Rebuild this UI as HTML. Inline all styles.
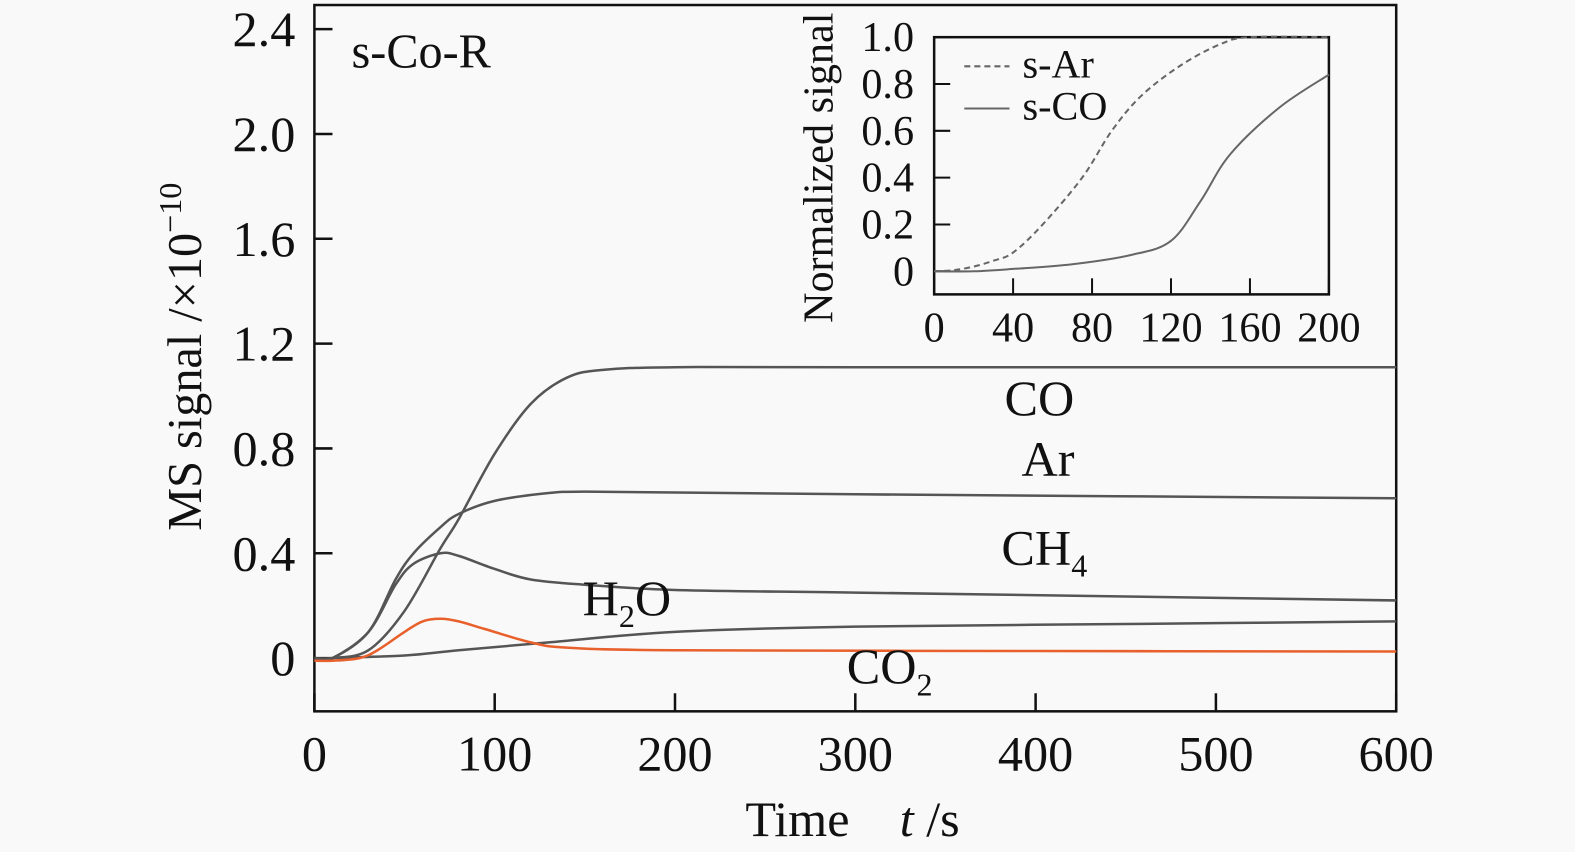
<!DOCTYPE html>
<html><head><meta charset="utf-8"><style>
html,body{margin:0;padding:0;background:#f9f9f9;}
svg{display:block;font-family:"Liberation Serif",serif;}
</style></head><body>
<svg id="c" width="1575" height="852" viewBox="0 0 1568 848" preserveAspectRatio="none"></svg>
<script>
const xTicks=[0,100,200,300,400,500,600];
const yTicks=[0,0.4,0.8,1.2,1.6,2.0,2.4];
const yTickLabels=["0","0.4","0.8","1.2","1.6","2.0","2.4"];
const tCO=[0,10,30,50,70,80,100,120,140,160,200,300,600];
const vCO=[0,0,0.03,0.18,0.42,0.53,0.78,0.97,1.07,1.10,1.11,1.11,1.11];
const tAr=[0,10,30,45,55,70,80,100,130,150,200,300,600];
const vAr=[0,0,0.1,0.3,0.4,0.5,0.55,0.6,0.63,0.635,0.632,0.625,0.61];
const tCH4=[0,10,30,45,55,70,80,100,120,150,200,300,450,600];
const vCH4=[0,0,0.1,0.28,0.36,0.4,0.39,0.34,0.3,0.28,0.26,0.25,0.235,0.22];
const tH2O=[0,10,50,80,130,200,300,450,600];
const vH2O=[-0.01,0,0.01,0.03,0.06,0.1,0.12,0.13,0.14];
const tCO2=[0,10,25,35,50,60,70,80,95,120,140,200,400,600];
const vCO2=[-0.01,-0.01,0,0.03,0.1,0.14,0.15,0.14,0.11,0.06,0.04,0.03,0.027,0.025];
const inTicksX=[0,40,80,120,160,200];
const inTicksY=[0,0.2,0.4,0.6,0.8,1.0];
const inTickLabelsY=["0","0.2","0.4","0.6","0.8","1.0"];
const tsAr=[0,10,20,30,40,55,75,90,105,125,145,160,200];
const vsAr=[0,0.005,0.02,0.045,0.08,0.2,0.4,0.6,0.75,0.88,0.97,1.0,1.0];
const tsCO=[0,20,40,70,100,120,135,150,175,200];
const vsCO=[0,0,0.01,0.03,0.07,0.13,0.3,0.5,0.7,0.84];

const S=document.getElementById('c');const NS='http://www.w3.org/2000/svg';
function el(t,a,p){const e=document.createElementNS(NS,t);for(const k in a)e.setAttribute(k,a[k]);(p||S).appendChild(e);return e;}
function txt(s,a,p){const e=el('text',a,p);e.textContent=s;return e;}
const X=v=>313+v*(1390-313)/600, Y=v=>655-v*(655-29)/2.4;
const IX=v=>930+v*(1323-930)/200, IY=v=>270-v*(270-37)/1.0;
function path(ts,vs,fx,fy){const P=ts.map((t,i)=>[fx(t),fy(vs[i])]);let d='M'+P[0][0]+','+P[0][1];
for(let i=0;i<P.length-1;i++){const p0=P[Math.max(0,i-1)],p1=P[i],p2=P[i+1],p3=P[Math.min(P.length-1,i+2)];
d+=' C'+(p1[0]+(p2[0]-p0[0])/6)+','+(p1[1]+(p2[1]-p0[1])/6)+' '+(p2[0]-(p3[0]-p1[0])/6)+','+(p2[1]-(p3[1]-p1[1])/6)+' '+p2[0]+','+p2[1];}return d;}
let f=el('rect',{x:313,y:5,width:1077,height:703,fill:'none',stroke:'#111','stroke-width':2.5});

xTicks.forEach(v=>{let l=el('line',{x1:X(v),x2:X(v),y1:708,y2:690,stroke:'#111','stroke-width':2.5});

let t=txt(String(v),{x:X(v),y:767,'font-size':50,'text-anchor':'middle',fill:'#111'});
});
yTicks.forEach((v,i)=>{let l=el('line',{x1:313,x2:331,y1:Y(v),y2:Y(v),stroke:'#111','stroke-width':2.5});

let t=txt(yTickLabels[i],{x:294,y:Y(v)+17,'font-size':50,'text-anchor':'end',fill:'#111'});
});
const series=[['co-line',tCO,vCO,'#555'],['ar-line',tAr,vAr,'#555'],['ch4-line',tCH4,vCH4,'#555'],['h2o-line',tH2O,vH2O,'#555'],['co2-line',tCO2,vCO2,'#e8602c']];
series.forEach(s=>{let p=el('path',{d:path(s[1],s[2],X,Y),fill:'none',stroke:s[3],'stroke-width':2.5});
});
let lb=[['label-co','CO',1000,413,''],['label-ar','Ar',1017,474,''],['label-ch4','CH',997,562,'4'],['label-h2o','H',580,612,'2O'],['label-co2','CO',843,680,'2']];
lb.forEach(a=>{let t=el('text',{x:a[2],y:a[3],'font-size':50,fill:'#111'});
if(a[0]==='label-h2o'){t.innerHTML='H<tspan font-size="32" dy="12">2</tspan><tspan dy="-12">O</tspan>';}
else if(a[4]){t.innerHTML=a[1]+'<tspan font-size="32" dy="12">'+a[4]+'</tspan>';}else t.textContent=a[1];});
let sl=txt('s-Co-R',{x:350,y:67,'font-size':48,fill:'#111'});
let yt=el('text',{transform:'translate(200,355) rotate(-90)','font-size':48,'text-anchor':'middle',fill:'#111'});

yt.innerHTML='MS signal /×10<tspan font-size="32" dy="-20">−10</tspan>';
let xt=el('text',{x:742,y:832,'font-size':50,fill:'#111'});
xt.innerHTML='Time<tspan dx="50" font-style="italic">t</tspan> /s';
let g=el('g',{});
let r=el('rect',{x:930,y:37,width:393,height:256,fill:'none',stroke:'#111','stroke-width':2.5},g);

inTicksX.forEach(v=>{let l=el('line',{x1:IX(v),x2:IX(v),y1:293,y2:277,stroke:'#111','stroke-width':2},g);

let t=txt(String(v),{x:IX(v),y:340,'font-size':42,'text-anchor':'middle',fill:'#111'},g);
});
inTicksY.forEach((v,i)=>{let l=el('line',{x1:930,x2:946,y1:IY(v),y2:IY(v),stroke:'#111','stroke-width':2},g);

let t=txt(inTickLabelsY[i],{x:910,y:IY(v)+14,'font-size':42,'text-anchor':'end',fill:'#111'},g);
});
let pa=el('path',{d:path(tsAr,vsAr,IX,IY),fill:'none',stroke:'#666','stroke-width':2,'stroke-dasharray':'6,4'},g);

let pc=el('path',{d:path(tsCO,vsCO,IX,IY),fill:'none',stroke:'#666','stroke-width':2},g);

let it=el('text',{transform:'translate(829,167) rotate(-90)','font-size':42,'text-anchor':'middle',fill:'#111'},g);
it.textContent='Normalized signal';
let le1=el('line',{x1:960,x2:1005,y1:66,y2:66,stroke:'#666','stroke-width':2,'stroke-dasharray':'6,4'},g);

let lt1=txt('s-Ar',{x:1018,y:77,'font-size':40,fill:'#111'},g);
let le2=el('line',{x1:960,x2:1005,y1:108,y2:108,stroke:'#666','stroke-width':2},g);

let lt2=txt('s-CO',{x:1018,y:119,'font-size':40,fill:'#111'},g);
</script>
</body></html>
